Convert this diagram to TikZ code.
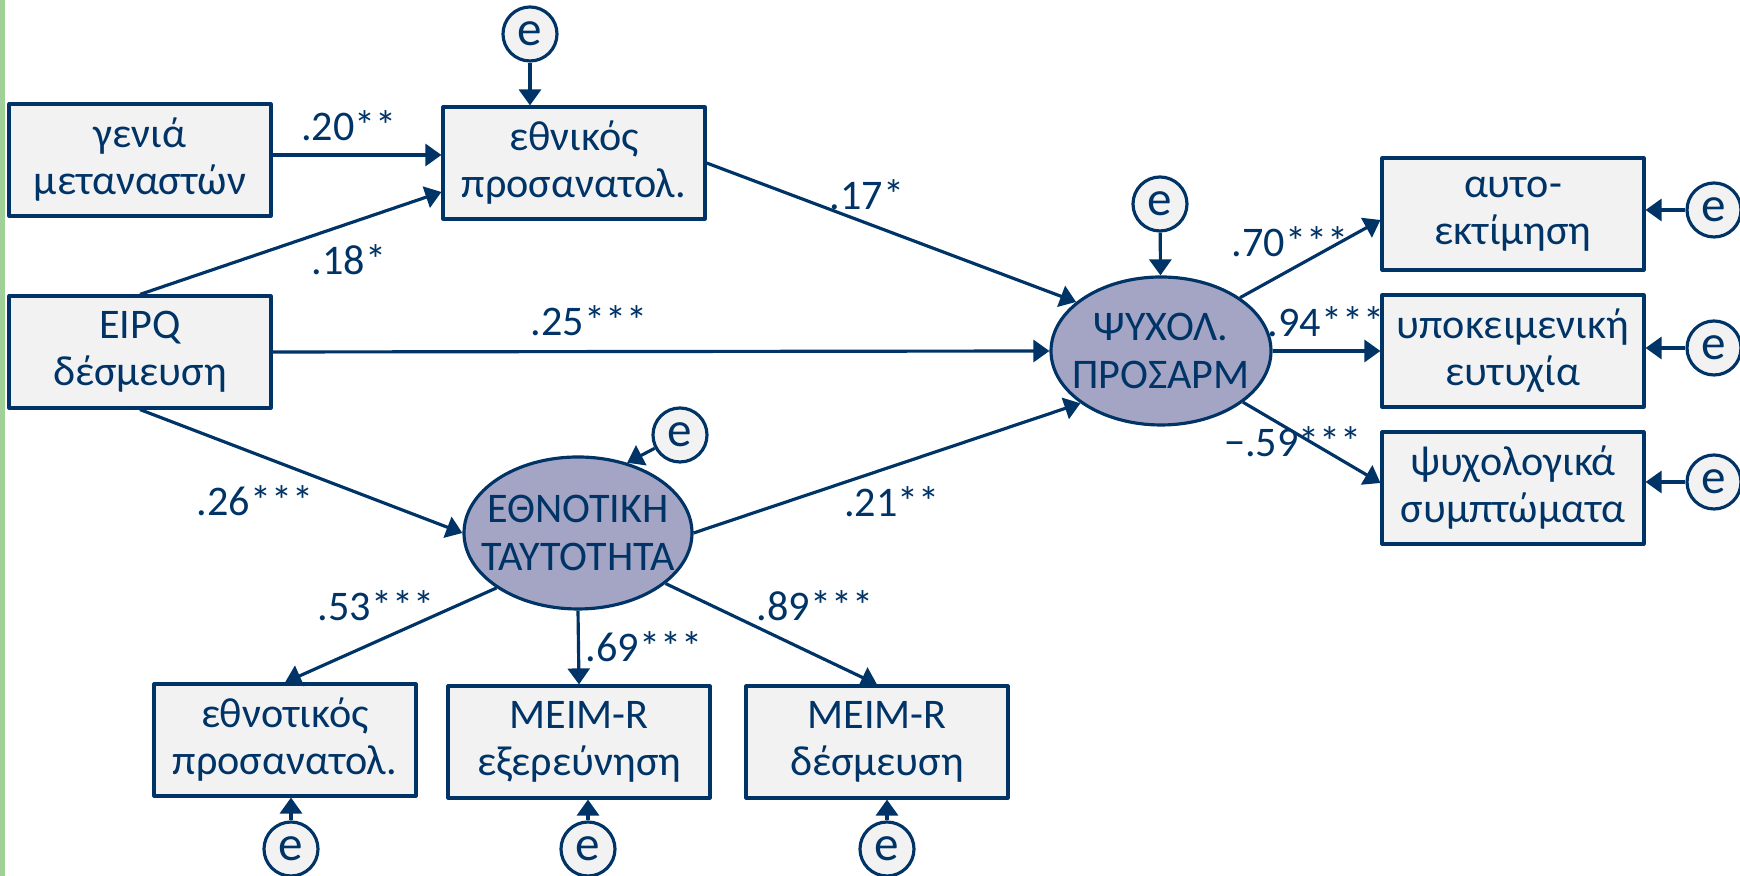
\documentclass[tikz,border=0pt]{standalone}
\usepackage{fontspec}
\setmainfont{Carlito}
\usetikzlibrary{arrows.meta,shapes.geometric}
\definecolor{navy}{RGB}{0,51,102}
\definecolor{boxgray}{RGB}{242,242,242}
\definecolor{latfill}{RGB}{164,165,196}
\definecolor{barfill}{RGB}{160,208,152}
\tikzset{
	obs/.style = {draw = navy, line width = .9pt, fill = boxgray, minimum width = 2.62cm, minimum height = 1.12cm, inner sep = 0pt, align = center},
	lat/.style = {ellipse, draw = navy, line width = .9pt, fill = latfill, inner xsep = -.4cm, inner ysep = -.2cm, align = center},
	err/.style = {circle, draw = navy, line width = .9pt, fill = boxgray, minimum size = .54cm, inner sep = 0pt, font = \fontsize{14}{14}\selectfont},
	arr/.style = {draw = navy, line width = .9pt, -{Triangle[length = .16cm, width = .22cm]}},
}
\begin{document}
\begin{tikzpicture}[line join = round, text = navy, font = \fontsize{12}{13.4}\selectfont]
	\useasboundingbox (0,0) rectangle (17.4,-8.76);
	\fill[barfill] (0,0) rectangle (.05,-8.76);
	% observed variables
	\path
	(1.40,-1.60) node[obs] (gen) {γενιά\\μεταναστών}
	(5.74,-1.63) node[obs] (nat) {εθνικός\\προσανατολ.}
	(1.40,-3.52) node[obs] (eipq) {EIPQ\\δέσμευση}
	(2.85,-7.40) node[obs] (ethb) {εθνοτικός\\προσανατολ.}
	(5.79,-7.42) node[obs] (meimx) {MEIM-R\\εξερεύνηση}
	(8.77,-7.42) node[obs] (meimd) {MEIM-R\\δέσμευση}
	(15.13,-2.14) node[obs] (self) {αυτο-\\εκτίμηση}
	(15.13,-3.51) node[obs] (swb) {υποκειμενική\\ευτυχία}
	(15.13,-4.88) node[obs] (sym) {ψυχολογικά\\συμπτώματα}
	;
	% latent variables
	\path
	(5.78,-5.33) node[lat, minimum width = 2.28cm, minimum height = 1.52cm] (ident) {ΕΘΝΟΤΙΚΗ\\ΤΑΥΤΟΤΗΤΑ}
	(11.61,-3.51) node[lat, minimum width = 2.20cm, minimum height = 1.48cm] (psy) {ΨΥΧΟΛ.\\ΠΡΟΣΑΡΜ}
	;
	\foreach \n/\p in {e1/{5.30,-.34}, e2/{6.80,-4.35}, e3/{11.60,-2.04}, e4/{17.14,-2.10}, e5/{17.14,-3.48}, e6/{17.14,-4.82}, e7/{2.91,-8.49}, e8/{5.88,-8.49}, e9/{8.87,-8.49}}
	\node[err] (\n) at (\p) {e};
	% paths
	\draw[arr] ([yshift = .05cm]gen.east) -- ([yshift = .08cm]nat.west);
	\draw[arr] (eipq.north) -- ([yshift = -.29cm]nat.west);
	\draw[arr] (eipq.east) -- (psy.west);
	\draw[arr] (eipq.south) -- (ident.west);
	\draw[arr] (nat.east) -- (psy.150);
	\draw[arr] (ident.east) -- (psy.213);
	\draw[arr] (ident.214) -- (ethb.north);
	\draw[arr] (ident.south) -- (meimx.north);
	\draw[arr] (ident.-30) -- (meimd.north);
	\draw[arr] (psy.34) -- ([yshift = -.06cm]self.west);
	\draw[arr] (psy.east) -- (swb.west);
	\draw[arr] (psy.-32) -- ([yshift = .05cm]sym.west);
	% residuals
	\draw[arr] (e1) -- (e1 |- nat.north);
	\draw[arr] (e2) -- (ident.55);
	\draw[arr] (e3) -- (psy);
	\foreach \e/\b in {e4/self, e5/swb, e6/sym}
	\draw[arr] (\e) -- (\e -| \b.east);
	\foreach \e/\b in {e7/ethb, e8/meimx, e9/meimd}
	\draw[arr] (\e) -- (\e |- \b.south);
	% coefficients
	\foreach \n/\p/\t in {c1/{3.49,-1.26}/.20**, c2/{3.49,-2.60}/.18*, c3/{8.67,-1.95}/.17*, c4/{5.89,-3.21}/.25***, c5/{2.55,-5.01}/.26***, c6/{8.92,-5.02}/.21**, c7/{3.76,-6.06}/.53***, c8/{6.44,-6.47}/.69***, c9/{8.15,-6.06}/.89***, c10/{12.90,-2.42}/.70***, c11/{13.26,-3.22}/.94***, c12/{12.93,-4.42}/−.59***}
	\node (\n) at (\p) {\t};
\end{tikzpicture}
\end{document}
